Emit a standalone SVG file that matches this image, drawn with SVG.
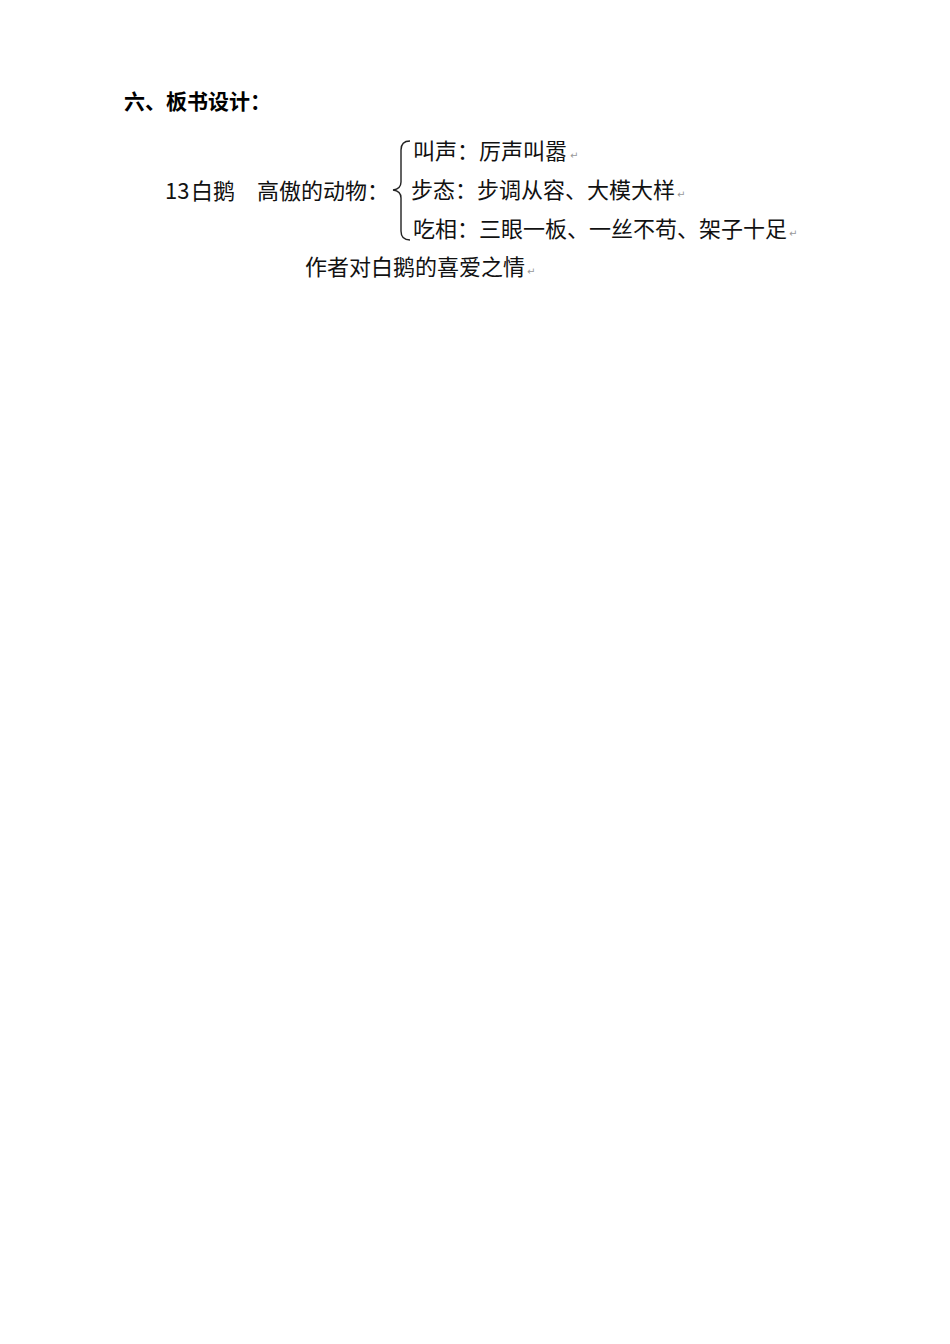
<svg xmlns="http://www.w3.org/2000/svg" width="950" height="1344" viewBox="0 0 950 1344">
<style>
.t{font-family:"Noto Sans CJK SC","Noto Sans CJK JP",sans-serif;font-size:22px;fill:#111}
.h{font-family:"Noto Sans CJK SC",sans-serif;font-size:21px;font-weight:bold;fill:#000}
.r{font-family:"DejaVu Sans",sans-serif;font-size:10px;fill:#999}
.br{fill:none;stroke:#222;stroke-width:1.4}
</style>
<rect width="950" height="1344" fill="#fff"/>
<g id="title"><text class="h" x="124" y="109">六、板书设计：</text></g>
<g id="root">
<text class="t" x="165" y="199">13</text>
<text class="t" x="191" y="199">白鹅</text>
<text class="t" x="257" y="199">高傲的动物：</text>
</g>
<g id="connectors">
<path class="br" d="M410,141 Q401,141 401,150 L401,182 Q401,189 393,190 Q401,191 401,198 L401,231 Q401,240 410,240"/>
</g>
<g id="n1"><text class="t" x="413" y="159">叫声：厉声叫嚣</text><text class="r" x="570" y="159">↵</text></g>
<g id="n2"><text class="t" x="411" y="198">步态：步调从容、大模大样</text><text class="r" x="677" y="198">↵</text></g>
<g id="n3"><text class="t" x="413" y="237">吃相：三眼一板、一丝不苟、架子十足</text><text class="r" x="789" y="237">↵</text></g>
<g id="n4"><text class="t" x="305" y="275">作者对白鹅的喜爱之情</text><text class="r" x="527" y="275">↵</text></g>
</svg>
